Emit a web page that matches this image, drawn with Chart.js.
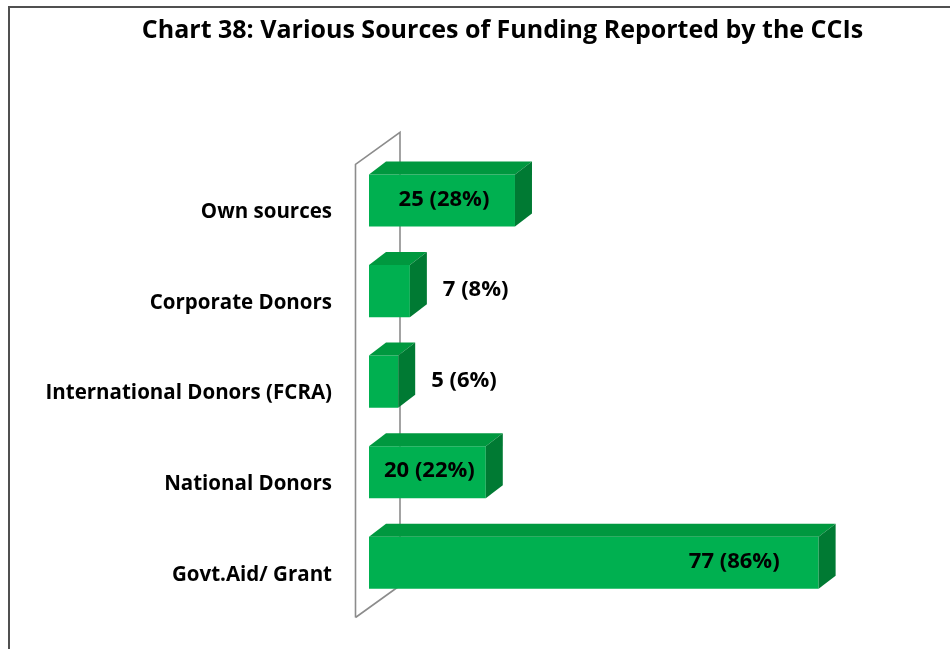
<!DOCTYPE html>
<html>
<head>
<meta charset="utf-8">
<title>Chart 38: Various Sources of Funding Reported by the CCIs</title>
<script src="https://cdn.jsdelivr.net/npm/chart.js@4/dist/chart.umd.min.js"></script>
<style>
  html, body { margin: 0; padding: 0; background: #ffffff; }
  #wrap { position: relative; width: 950px; height: 649px; }
</style>
</head>
<body>
<div id="wrap"><canvas id="chart" width="950" height="649"></canvas></div>
<script>
// Funding sources reported by the CCIs
const chartTitle = 'Chart 38: Various Sources of Funding Reported by the CCIs';
const categories = ['Own sources', 'Corporate Donors', 'International Donors (FCRA)', 'National Donors', 'Govt.Aid/ Grant'];
const counts = [25, 7, 5, 20, 77];
const percents = [28, 8, 6, 22, 86];

const FONT = "'Open Sans', Lato, 'DejaVu Sans', sans-serif";
const FRONT = '#00B050';
const TOP = '#00983F';
const SIDE = '#007A33';
const DEPTH_X = 17;
const DEPTH_Y = -13;

// Frame line along the top and left edge, and the heading
const framePlugin = {
  id: 'frame',
  beforeDraw(chart) {
    const ctx = chart.ctx;
    ctx.save();
    ctx.strokeStyle = '#505050';
    ctx.lineWidth = 2;
    ctx.beginPath();
    ctx.moveTo(9, chart.height);
    ctx.lineTo(9, 7);
    ctx.lineTo(chart.width, 7);
    ctx.stroke();

    ctx.fillStyle = '#000000';
    ctx.font = 'bold 25px ' + FONT;
    ctx.textAlign = 'center';
    ctx.textBaseline = 'middle';
    ctx.fillText(chartTitle, chart.width / 2 + 27.5, 31);
    ctx.restore();
  }
};

// Side wall of the 3D plot, drawn behind the bars
const wallPlugin = {
  id: 'wall',
  beforeDatasetsDraw(chart) {
    const { ctx, chartArea } = chart;
    const fx = chartArea.left - 13.5;
    const bx = chartArea.left + 31;
    const fTop = chartArea.top + 9;
    const fBot = chartArea.bottom + 9.5;
    const dy = -32;
    ctx.save();
    ctx.strokeStyle = '#8C8C8C';
    ctx.lineWidth = 1.6;
    ctx.beginPath();
    ctx.moveTo(fx, fBot);
    ctx.lineTo(fx, fTop);
    ctx.lineTo(bx, fTop + dy);
    ctx.lineTo(bx, fBot + dy);
    ctx.lineTo(fx, fBot);
    ctx.stroke();
    ctx.restore();
  }
};

// Top and side faces of each bar plus the value labels
const bar3dPlugin = {
  id: 'bar3d',
  afterDatasetsDraw(chart) {
    const ctx = chart.ctx;
    const meta = chart.getDatasetMeta(0);
    const maxVal = Math.max(...counts);
    ctx.save();
    meta.data.forEach((bar, i) => {
      const x0 = bar.base, x1 = bar.x;
      const yT = bar.y - bar.height / 2, yB = bar.y + bar.height / 2;
      // top face
      ctx.fillStyle = TOP;
      ctx.beginPath();
      ctx.moveTo(x0, yT);
      ctx.lineTo(x0 + DEPTH_X, yT + DEPTH_Y);
      ctx.lineTo(x1 + DEPTH_X, yT + DEPTH_Y);
      ctx.lineTo(x1, yT);
      ctx.closePath();
      ctx.fill();
      // side face
      ctx.fillStyle = SIDE;
      ctx.beginPath();
      ctx.moveTo(x1, yT);
      ctx.lineTo(x1 + DEPTH_X, yT + DEPTH_Y);
      ctx.lineTo(x1 + DEPTH_X, yB + DEPTH_Y);
      ctx.lineTo(x1, yB);
      ctx.closePath();
      ctx.fill();

      // value label
      const text = counts[i] + ' (' + percents[i] + '%)';
      ctx.font = 'bold 22px ' + FONT;
      ctx.fillStyle = '#000000';
      ctx.textBaseline = 'middle';
      const w = x1 - x0;
      const ty = bar.y - 1;
      if (w < 80) {
        ctx.textAlign = 'left';
        ctx.fillText(text, x1 + 33, ty);
      } else if (counts[i] === maxVal) {
        ctx.textAlign = 'right';
        ctx.fillText(text, x1 - 39, ty);
      } else {
        ctx.textAlign = 'center';
        ctx.fillText(text, (x0 + x1) / 2 + 2, ty);
      }
    });
    ctx.restore();
  }
};

new Chart(document.getElementById('chart'), {
  type: 'bar',
  data: {
    labels: categories,
    datasets: [{
      data: counts,
      backgroundColor: FRONT,
      borderWidth: 0,
      categoryPercentage: 1,
      barPercentage: 0.575
    }]
  },
  options: {
    indexAxis: 'y',
    responsive: false,
    animation: false,
    layout: { padding: { left: 0, right: 0, top: 155.3, bottom: 41 } },
    scales: {
      x: {
        display: false,
        min: 0,
        max: 99.5
      },
      y: {
        grid: { display: false, drawTicks: false },
        border: { display: false },
        ticks: {
          autoSkip: false,
          color: '#000000',
          font: { family: FONT, size: 20.5, weight: 'bold' },
          padding: 37,
          labelOffset: 12
        },
        afterFit(scale) {
          scale.width = 369;
          scale.paddingTop = 0;
          scale.paddingBottom = 0;
        }
      }
    },
    plugins: {
      legend: { display: false },
      tooltip: { enabled: false },
      title: { display: false }
    }
  },
  plugins: [framePlugin, wallPlugin, bar3dPlugin]
});
</script>
</body>
</html>
